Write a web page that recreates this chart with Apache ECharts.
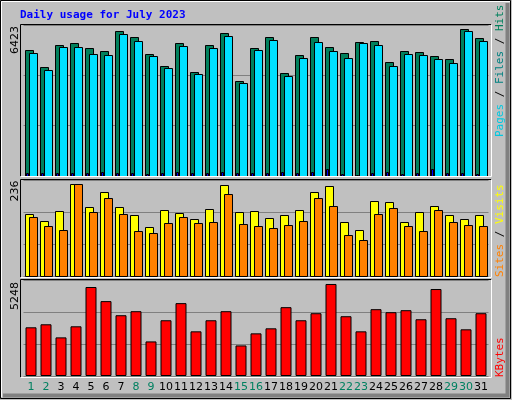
<!DOCTYPE html>
<html><head><meta charset="utf-8">
<script src="https://cdn.jsdelivr.net/npm/echarts@6/dist/echarts.min.js"></script>
<style>html,body{margin:0;padding:0;background:#C0C0C0}#c{width:512px;height:400px}</style>
</head><body><div id="c"></div>
<script>
const days = Array.from({length:31},(_,i)=>String(i+1));
const weekend = ['1','2','8','9','15','16','22','23','29','30'];
const hits = [5489,4747,5722,5795,5576,5445,6334,6057,5314,4790,5795,4528,5722,6232,4135,5576,6057,4484,5271,6057,5620,5358,5839,5882,4965,5445,5402,5227,5096,6423,6013];
const files = [5358,4616,5620,5620,5314,5271,6188,5882,5227,4703,5664,4441,5576,6101,4048,5489,5926,4353,5140,5839,5445,5140,5795,5708,4790,5314,5271,5096,4921,6319,5882];
const pages = [116,116,116,116,116,160,116,116,73,116,160,116,116,160,116,116,116,160,116,160,291,73,29,116,160,73,116,291,116,116,73];
const visits = [159,141,167,236,177,215,177,156,126,169,162,146,172,233,164,167,149,156,169,215,231,139,118,192,190,139,164,180,156,146,156];
const sites = [151,128,118,236,164,200,159,115,110,136,151,136,139,210,133,128,123,131,141,200,180,105,92,159,174,128,115,169,139,131,128];
const kbytes = [2777,2949,2202,2834,5075,4271,3466,3696,1972,3179,4156,2547,3179,3696,1743,2432,2719,3926,3179,3581,5248,3409,2547,3811,3639,3753,3236,4960,3294,2662,3581];

function rectSeries(name, data, gridIdx, color, off, width, z){
  return {type:'custom', name, xAxisIndex:gridIdx, yAxisIndex:gridIdx, z,
    data: data.map((v,i)=>[i,v]),
    renderItem:(params, api)=>{
      const top = api.coord([api.value(0), api.value(1)]);
      const base = api.coord([api.value(0), 0]);
      return {type:'rect', shape:{x:Math.round(top[0]+off)+0.5, y:Math.round(top[1])+0.5, width:width, height:Math.round(base[1]-top[1])},
        style:{fill:color, stroke:'#000', lineWidth:1}};
    }};
}
const grids=[{left:23.5,right:23.5,top:25,height:151},{left:23.5,right:23.5,top:180,height:96},{left:23.5,right:23.5,top:280,height:96}];
const ymax=[6600,246,5475];
const chart = echarts.init(document.getElementById('c'));
const xAxes = grids.map((g,i)=>({type:'category', gridIndex:i, data:days, boundaryGap:true,
  axisLine:{show:false}, axisTick:{show:false},
  axisLabel: i===2 ? {show:true, interval:0, margin:6, fontFamily:'DejaVu Sans', fontSize:11,
     formatter:v=> weekend.includes(v)?'{w|'+v+'}':'{d|'+v+'}',
     rich:{w:{color:'#008060',fontFamily:'DejaVu Sans',fontSize:11},d:{color:'#000',fontFamily:'DejaVu Sans',fontSize:11}}} : {show:false}}));
const yAxes = grids.map((g,i)=>({type:'value', gridIndex:i, min:0, max:ymax[i], interval:ymax[i]/3,
  axisLine:{show:false}, axisTick:{show:false}, axisLabel:{show:false},
  splitLine:{show:true, lineStyle:{color:'#808080', width:1}}}));
function vtext(x,y,rich,text){return {type:'text', x, y, rotation:Math.PI/2, style:{text, rich, fontFamily:'DejaVu Sans Mono', fontSize:11, align:'left', verticalAlign:'middle'}};}
const graphics=[
  {type:'rect', shape:{x:0.5,y:0.5,width:510,height:398}, style:{fill:'none', stroke:'#000'}},
  {type:'polyline', shape:{points:[[1.5,397],[1.5,1.5],[510,1.5]]}, style:{fill:'none',stroke:'#fff',lineWidth:1}},
  {type:'polyline', shape:{points:[[3,395.5],[507.5,395.5],[507.5,3]]}, style:{fill:'none',stroke:'#808080',lineWidth:4}},
  {type:'text', x:20, y:15, style:{text:'Daily usage for July 2023', fill:'#0000FF', fontFamily:'DejaVu Sans Mono', fontWeight:'bold', fontSize:11, verticalAlign:'middle'}},
  {type:'text', x:15, y:40, rotation:Math.PI/2, style:{text:'6423', fill:'#000', fontFamily:'DejaVu Sans', fontSize:11, align:'center', verticalAlign:'middle'}},
  {type:'text', x:15, y:191, rotation:Math.PI/2, style:{text:'236', fill:'#000', fontFamily:'DejaVu Sans', fontSize:11, align:'center', verticalAlign:'middle'}},
  {type:'text', x:15, y:296, rotation:Math.PI/2, style:{text:'5248', fill:'#000', fontFamily:'DejaVu Sans', fontSize:11, align:'center', verticalAlign:'middle'}},
  vtext(500,137,{p:{fill:'#00C8E0'},s:{fill:'#000'},f:{fill:'#008080'},h:{fill:'#00805C'}},'{p|Pages}{s| / }{f|Files}{s| / }{h|Hits}'),
  vtext(500,277,{a:{fill:'#FF8000'},s:{fill:'#000'},b:{fill:'#FFFF00'}},'{a|Sites}{s| / }{b|Visits}'),
  vtext(500,377,{k:{fill:'#FF0000'}},'{k|KBytes}')
];
[[25,176],[180,277],[280,377]].forEach(([t,b])=>{
  graphics.push({type:'polyline', z:10, shape:{points:[[20.5,b],[20.5,t-0.5],[491,t-0.5]]}, style:{fill:'none',stroke:'#000',lineWidth:1}});
  graphics.push({type:'polyline', z:10, shape:{points:[[21,b+0.5],[491.5,b+0.5],[491.5,t]]}, style:{fill:'none',stroke:'#fff',lineWidth:1}});
});
chart.setOption({
  backgroundColor:'#C0C0C0', animation:false,
  grid:grids, xAxis:xAxes, yAxis:yAxes, graphic:graphics,
  series:[
    rectSeries('Hits',hits,0,'#00805C',-6,8,2),
    rectSeries('Files',files,0,'#00E0FF',-2,8,3),
    rectSeries('Pages',pages,0,'#0000FF',-5,2,4),
    rectSeries('Visits',visits,1,'#FFFF00',-6,8,2),
    rectSeries('Sites',sites,1,'#FF8000',-2,8,3),
    {type:'bar', name:'KBytes', xAxisIndex:2, yAxisIndex:2, data:kbytes, barWidth:11,
      itemStyle:{color:'#FF0000', borderColor:'#000', borderWidth:1}}
  ]
});
</script></body></html>
